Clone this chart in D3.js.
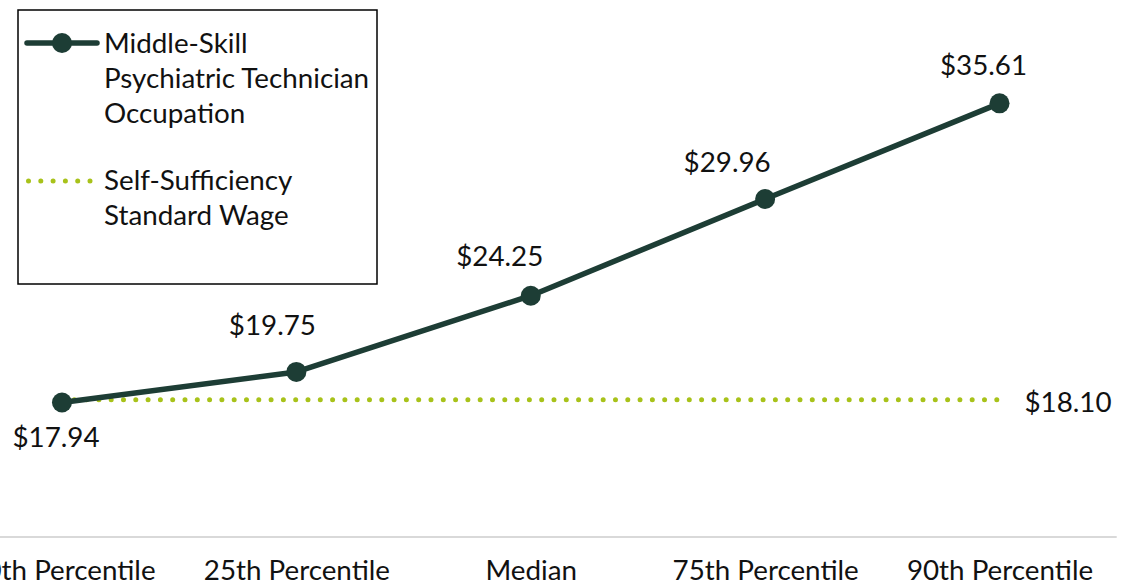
<!DOCTYPE html>
<html>
<head>
<meta charset="utf-8">
<script src="https://cdn.jsdelivr.net/npm/d3@7/dist/d3.min.js"></script>
<style>
  html, body { margin: 0; padding: 0; background: #fff; }
  svg { display: block; }
  text { font-family: Lato, "Noto Sans", sans-serif; fill: #111; }
</style>
</head>
<body>
<svg id="chart" width="1122" height="586"></svg>
<script>
// ---- data ----
const categories = ["10th Percentile", "25th Percentile", "Median", "75th Percentile", "90th Percentile"];
const wageValues = [17.94, 19.75, 24.25, 29.96, 35.61];
const selfSufficiencyValues = [18.10, 18.10, 18.10, 18.10, 18.10];
const seriesNames = [["Middle-Skill", "Psychiatric Technician", "Occupation"], ["Self-Sufficiency", "Standard Wage"]];
const valueLabels = wageValues.map(v => "$" + v.toFixed(2));
const ssLabel = "$" + selfSufficiencyValues[4].toFixed(2);

// ---- style ----
const lineColor = "#1d3d35";
const dotColor = "#a8c21a";
const svg = d3.select("#chart");

// fit font size to reference text widths
function measure(str, size) {
  const t = svg.append("text").attr("font-size", size).text(str);
  const w = t.node().getComputedTextLength();
  t.remove();
  return w;
}
const fs = 100 * (183 / measure("90th Percentile", 100) + 267 / measure("Psychiatric Technician", 100) + 88 / measure("$35.61", 100)) / 3;

const x = d3.scalePoint().domain(categories).range([-55.2, 1116.7]).padding(0.5);
const y = d3.scaleLinear().domain([10, 40]).range([537, 29]);

// axis baseline
svg.append("line")
  .attr("x1", x.range()[0]).attr("x2", x.range()[1])
  .attr("y1", y(10)).attr("y2", y(10))
  .attr("stroke", "#d9d9d9").attr("stroke-width", 2);

// x axis labels
const xAxis = d3.axisBottom(x).tickSize(0).tickPadding(0);
const gx = svg.append("g").attr("transform", `translate(0,${y(10)})`).call(xAxis);
gx.select(".domain").remove();
gx.selectAll("text")
  .attr("font-size", fs).attr("dy", null).attr("y", 43)
  .style("font-family", "Lato, 'Noto Sans', sans-serif").attr("fill", "#111");

// self-sufficiency dotted line
const ssLine = d3.line().x((d, i) => x(categories[i])).y(d => y(d));
svg.append("path")
  .attr("d", ssLine(selfSufficiencyValues))
  .attr("fill", "none").attr("stroke", dotColor)
  .attr("stroke-width", 5).attr("stroke-linecap", "round")
  .attr("stroke-dasharray", "0 12.3");

// wage line
const wLine = d3.line().x((d, i) => x(categories[i])).y(d => y(d));
svg.append("path")
  .attr("d", wLine(wageValues))
  .attr("fill", "none").attr("stroke", lineColor)
  .attr("stroke-width", 5.5).attr("stroke-linejoin", "round");

svg.selectAll("circle.pt").data(wageValues).join("circle")
  .attr("class", "pt")
  .attr("cx", (d, i) => x(categories[i])).attr("cy", d => y(d))
  .attr("r", 10).attr("fill", lineColor);

// value labels (layout nudges relative to each point)
const labelNudge = [[-6, 44], [-24, -37], [-31, -30], [-38, -27], [-16, -28]];
svg.selectAll("text.val").data(wageValues).join("text")
  .attr("class", "val")
  .attr("x", (d, i) => x(categories[i]) + labelNudge[i][0])
  .attr("y", (d, i) => y(d) + labelNudge[i][1])
  .attr("text-anchor", "middle").attr("font-size", fs)
  .text((d, i) => valueLabels[i]);

svg.append("text")
  .attr("x", x(categories[4]) + 25)
  .attr("y", y(selfSufficiencyValues[4]) + 12)
  .attr("font-size", fs)
  .text(ssLabel);

// legend
const lg = svg.append("g");
lg.append("rect").attr("x", 18).attr("y", 10).attr("width", 359).attr("height", 274)
  .attr("fill", "#fff").attr("stroke", "#000").attr("stroke-width", 1.5);
lg.append("line").attr("x1", 27).attr("x2", 97).attr("y1", 43).attr("y2", 43)
  .attr("stroke", lineColor).attr("stroke-width", 5.5).attr("stroke-linecap", "round");
lg.append("circle").attr("cx", 62).attr("cy", 43).attr("r", 10).attr("fill", lineColor);
lg.append("line").attr("x1", 28.5).attr("x2", 91).attr("y1", 181).attr("y2", 181)
  .attr("stroke", dotColor).attr("stroke-width", 5).attr("stroke-linecap", "round")
  .attr("stroke-dasharray", "0 12.3");
const legendStarts = [53, 190];
seriesNames.forEach((lines, si) => {
  lines.forEach((ln, li) => {
    lg.append("text").attr("x", 104).attr("y", legendStarts[si] + li * 34.8)
      .attr("font-size", fs).text(ln);
  });
});
</script>
</body>
</html>
